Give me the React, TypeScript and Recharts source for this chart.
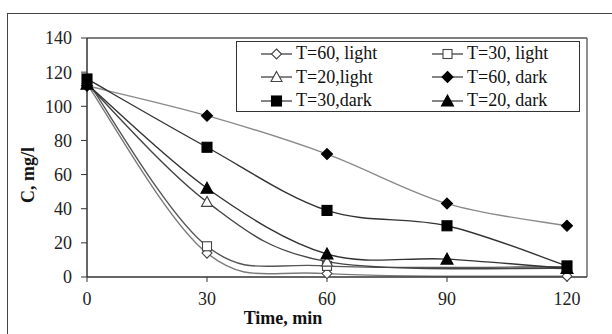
import React from 'react';
import {
  LineChart, Line, XAxis, YAxis, Legend, ReferenceLine,
} from 'recharts';

const times = [0, 30, 60, 90, 120];
const xTicks = [0, 30, 60, 90, 120];
const yTicks = [0, 20, 40, 60, 80, 100, 120, 140];

// light runs have no reading at 90 min
const t60Light = [113, 14, 2, null, 0.5];
const t30Light = [115, 18, 6.5, null, 6];
const t20Light = [113, 44, 9, null, 5];
const t60Dark = [112, 94.5, 72, 43, 30];
const t30Dark = [116, 76, 39, 30, 6.5];
const t20Dark = [113, 52, 13.5, 10.5, 5];

type Shape = 'diamond' | 'square' | 'triangle';

interface SeriesDef {
  key: string;
  name: string;
  values: (number | null)[];
  shape: Shape;
  filled: boolean;
  color: string;
}

const series: SeriesDef[] = [
  { key: 't60l', name: 'T=60, light', values: t60Light, shape: 'diamond', filled: false, color: '#7a7a7a' },
  { key: 't30l', name: 'T=30, light', values: t30Light, shape: 'square', filled: false, color: '#555' },
  { key: 't20l', name: 'T=20,light', values: t20Light, shape: 'triangle', filled: false, color: '#444' },
  { key: 't60d', name: 'T=60, dark', values: t60Dark, shape: 'diamond', filled: true, color: '#8a8a8a' },
  { key: 't30d', name: 'T=30,dark', values: t30Dark, shape: 'square', filled: true, color: '#333' },
  { key: 't20d', name: 'T=20, dark', values: t20Dark, shape: 'triangle', filled: true, color: '#333' },
];

const data = times.map((t, i) => {
  const row: Record<string, number | null> = { time: t };
  series.forEach(s => { row[s.key] = s.values[i]; });
  return row;
});

const FONT = '"Liberation Serif", "Times New Roman", serif';

// spreadsheet-style smoothed line (bezier with 1/6 neighbour tangents)
const smoothCurve: any = (context: any) => {
  let pts: number[][] = [];
  return {
    areaStart() {},
    areaEnd() {},
    lineStart() { pts = []; },
    point(x: number, y: number) { pts.push([+x, +y]); },
    lineEnd() {
      if (!pts.length) return;
      context.moveTo(pts[0][0], pts[0][1]);
      for (let i = 0; i < pts.length - 1; i++) {
        const p0 = pts[i - 1] || pts[i];
        const p1 = pts[i];
        const p2 = pts[i + 1];
        const p3 = pts[i + 2] || p2;
        context.bezierCurveTo(
          p1[0] + (p2[0] - p0[0]) / 6, p1[1] + (p2[1] - p0[1]) / 6,
          p2[0] - (p3[0] - p1[0]) / 6, p2[1] - (p3[1] - p1[1]) / 6,
          p2[0], p2[1],
        );
      }
    },
  };
};

const Marker = ({ cx, cy, shape, filled }: { cx: number; cy: number; shape: Shape; filled: boolean }) => {
  const fill = filled ? '#000' : '#fff';
  const stroke = filled ? '#000' : '#444';
  const r = filled ? 5.5 : 5;
  if (shape === 'square') {
    return <rect x={cx - r + 0.5} y={cy - r + 0.5} width={2 * r - 1} height={2 * r - 1} fill={fill} stroke={stroke} strokeWidth={1.1} />;
  }
  if (shape === 'diamond') {
    const d = `M${cx},${cy - r} L${cx + r},${cy} L${cx},${cy + r} L${cx - r},${cy} Z`;
    return <path d={d} fill={fill} stroke={stroke} strokeWidth={1.1} />;
  }
  const d = `M${cx},${cy - r - 0.5} L${cx + r + 0.5},${cy + r - 0.5} L${cx - r - 0.5},${cy + r - 0.5} Z`;
  return <path d={d} fill={fill} stroke={stroke} strokeWidth={1.1} />;
};

const LegendBox = () => (
  <div style={{
    width: 344, height: 71, border: '1.5px solid #333', background: '#fff',
    fontFamily: FONT, fontSize: 18, color: '#111', boxSizing: 'border-box',
    display: 'grid', gridTemplateColumns: '171px 171px', gridAutoRows: 23.5, paddingTop: 0,
  }}>
    {series.map(s => (
      <div key={s.key} style={{ display: 'flex', alignItems: 'center', paddingLeft: 24, whiteSpace: 'nowrap' }}>
        <svg width={32} height={14} style={{ marginRight: 3 }}>
          <line x1={0} y1={7} x2={31} y2={7} stroke="#333" strokeWidth={1.2} />
          <Marker cx={15.5} cy={7} shape={s.shape} filled={s.filled} />
        </svg>
        <span>{s.name}</span>
      </div>
    ))}
  </div>
);

export default function App() {
  return (
    <div style={{ position: 'absolute', left: 0, top: 0, width: 612, height: 334, overflow: 'hidden', background: '#fff' }}>
      <div style={{ position: 'absolute', left: 7, top: 13, width: 700, height: 400, border: '1.5px solid #444' }} />
      <div style={{ position: 'absolute', left: 0, top: 0 }}>
        <LineChart width={612} height={334} data={data} margin={{ top: 38, right: 25, left: 0, bottom: 27 }}>
          <XAxis
            dataKey="time"
            type="number"
            domain={[0, 125]}
            ticks={xTicks}
            height={30}
            tickSize={5}
            tickMargin={10}
            tick={{ fill: '#222', fontSize: 18, fontFamily: FONT }}
            stroke="#333"
            axisLine={{ stroke: '#333', strokeWidth: 1.5 }}
          />
          <YAxis
            type="number"
            domain={[0, 140]}
            ticks={yTicks}
            width={87}
            tickSize={6}
            tickMargin={9}
            tick={{ fill: '#222', fontSize: 18, fontFamily: FONT }}
            stroke="#333"
            axisLine={{ stroke: '#333', strokeWidth: 1.5 }}
          />
          <ReferenceLine y={140} stroke="#555" strokeWidth={1.3} />
          <ReferenceLine x={125} stroke="#555" strokeWidth={1.3} />
          {series.map(s => (
            <Line
              key={s.key}
              dataKey={s.key}
              name={s.name}
              type={smoothCurve}
              stroke={s.color}
              strokeWidth={1.4}
              connectNulls
              isAnimationActive={false}
              activeDot={false}
              dot={(p: any) => (p.cy == null || p.value == null
                ? <g key={`${s.key}-${p.index}`} />
                : <Marker key={`${s.key}-${p.index}`} cx={p.cx} cy={p.cy} shape={s.shape} filled={s.filled} />)}
            />
          ))}
          <Legend
            layout="vertical"
            align="center"
            verticalAlign="middle"
            content={() => <LegendBox />}
            wrapperStyle={{ left: 236, top: 41, width: 344, height: 71 }}
          />
        </LineChart>
      </div>
      <div style={{
        position: 'absolute', left: 283, top: 318, transform: 'translate(-50%, -50%)',
        fontFamily: FONT, fontWeight: 'bold', fontSize: 18, color: '#111', whiteSpace: 'nowrap',
      }}>Time, min</div>
      <div style={{
        position: 'absolute', left: 28, top: 175, transform: 'translate(-50%, -50%) rotate(-90deg)',
        fontFamily: FONT, fontWeight: 'bold', fontSize: 18, color: '#111', whiteSpace: 'nowrap',
      }}>C, mg/l</div>
    </div>
  );
}
